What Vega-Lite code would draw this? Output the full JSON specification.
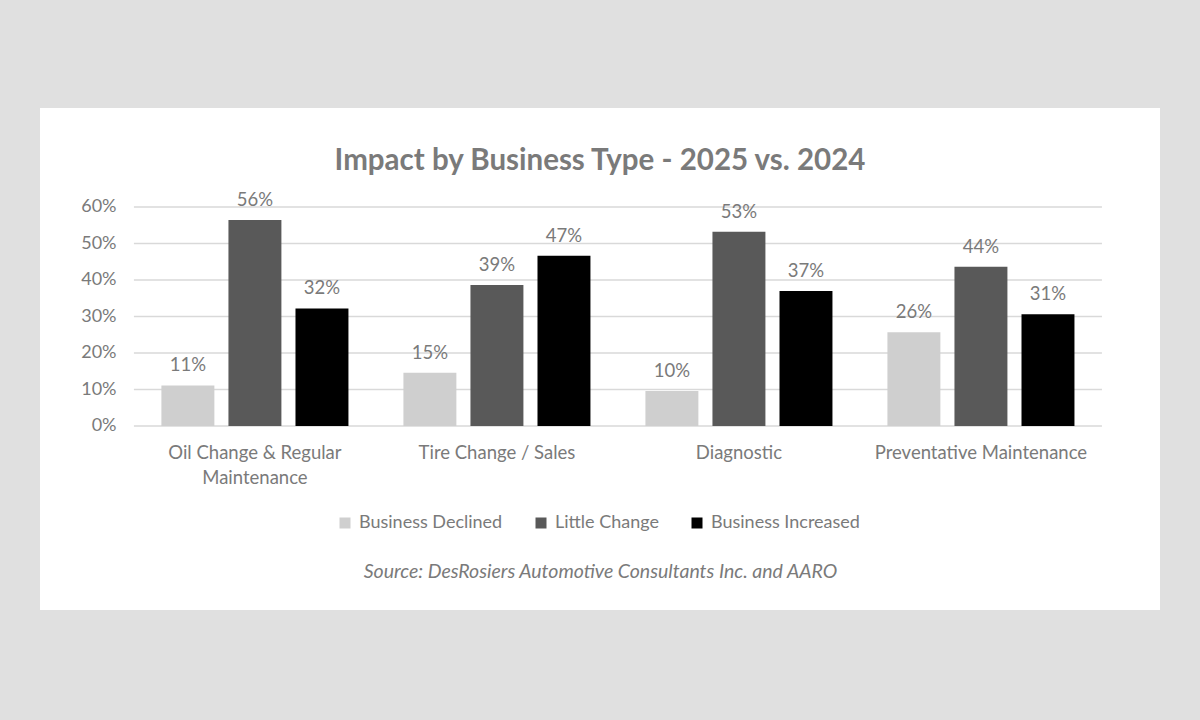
{
  "$schema": "https://vega.github.io/schema/vega-lite/v6.json",
  "width": 1120,
  "height": 502,
  "autosize": {"type": "none"},
  "padding": {"left": 40, "top": 108, "right": 40, "bottom": 110},
  "background": "#e0e0e0",
  "title": {
    "text": "Impact by Business Type - 2025 vs. 2024",
    "font": "Lato",
    "fontSize": 29.5,
    "fontWeight": "bold",
    "color": "#7a7a7a",
    "anchor": "middle",
    "offset": -68
  },
  "config": {
    "view": {"fill": "white", "stroke": null},
    "font": "Lato",
    "text": {"font": "Lato"}
  },
  "data": {
    "values": [
      {"category": "Oil Change & Regular Maintenance", "series": "Business Declined", "value": 0.111},
      {"category": "Oil Change & Regular Maintenance", "series": "Little Change", "value": 0.564},
      {"category": "Oil Change & Regular Maintenance", "series": "Business Increased", "value": 0.322},
      {"category": "Tire Change / Sales", "series": "Business Declined", "value": 0.146},
      {"category": "Tire Change / Sales", "series": "Little Change", "value": 0.386},
      {"category": "Tire Change / Sales", "series": "Business Increased", "value": 0.466},
      {"category": "Diagnostic", "series": "Business Declined", "value": 0.096},
      {"category": "Diagnostic", "series": "Little Change", "value": 0.532},
      {"category": "Diagnostic", "series": "Business Increased", "value": 0.37},
      {"category": "Preventative Maintenance", "series": "Business Declined", "value": 0.257},
      {"category": "Preventative Maintenance", "series": "Little Change", "value": 0.436},
      {"category": "Preventative Maintenance", "series": "Business Increased", "value": 0.306}
    ]
  },
  "encoding": {
    "x": {
      "field": "category",
      "type": "nominal",
      "sort": ["Oil Change & Regular Maintenance", "Tire Change / Sales", "Diagnostic", "Preventative Maintenance"],
      "scale": {"paddingInner": 0, "paddingOuter": 0.314, "align": 0.618},
      "axis": {
        "orient": "bottom",
        "offset": -184,
        "domain": false,
        "ticks": false,
        "tickSize": 0,
        "labelAngle": 0,
        "labelPadding": 17,
        "labelFontSize": 18.5,
        "labelColor": "#7a7a7a",
        "labelFont": "Lato",
        "labelLimit": 0,
        "labelLineHeight": 25,
        "labelBaseline": "top",
        "labelExpr": "datum.label == 'Oil Change & Regular Maintenance' ? ['Oil Change & Regular', 'Maintenance'] : datum.label",
        "title": "Source: DesRosiers Automotive Consultants Inc. and AARO",
        "titleFont": "Lato",
        "titleFontSize": 19.5,
        "titleFontStyle": "italic",
        "titleFontWeight": "normal",
        "titleColor": "#7a7a7a",
        "titleY": 145,
        "titleBaseline": "middle"
      }
    },
    "y": {
      "field": "value",
      "type": "quantitative",
      "scale": {"domain": [-0.504, 0.871], "nice": false, "zero": false},
      "axis": {
        "orient": "left",
        "offset": -80,
        "values": [0, 0.1, 0.2, 0.3, 0.4, 0.5, 0.6],
        "format": ".0%",
        "grid": false,
        "domain": false,
        "ticks": false,
        "tickSize": 0,
        "labelPadding": 4,
        "labelFontSize": 18,
        "labelColor": "#7a7a7a",
        "labelFont": "Lato",
        "title": null
      }
    }
  },
  "layer": [
    {
      "data": {"values": [{"g": 0}, {"g": 0.1}, {"g": 0.2}, {"g": 0.3}, {"g": 0.4}, {"g": 0.5}, {"g": 0.6}]},
      "mark": {"type": "rule", "color": "#d9d9d9", "strokeWidth": 1.5},
      "encoding": {
        "x": {"datum": "Oil Change & Regular Maintenance", "bandPosition": 0},
        "x2": {"datum": "Preventative Maintenance", "bandPosition": 1},
        "y": {"field": "g", "type": "quantitative"}
      }
    },
    {
      "mark": {"type": "bar"},
      "encoding": {
        "xOffset": {
          "field": "series",
          "type": "nominal",
          "sort": ["Business Declined", "Little Change", "Business Increased"],
          "scale": {"paddingInner": 0.21, "paddingOuter": 0.41}
        },
        "color": {
          "field": "series",
          "type": "nominal",
          "scale": {
            "domain": ["Business Declined", "Little Change", "Business Increased"],
            "range": ["#cfcfcf", "#595959", "#000000"]
          },
          "legend": {
            "orient": "none",
            "direction": "horizontal",
            "legendX": 296,
            "legendY": 406,
            "title": null,
            "symbolType": "square",
            "symbolSize": 121,
            "symbolStrokeWidth": 0,
            "labelFontSize": 18,
            "labelColor": "#7a7a7a",
            "labelFont": "Lato",
            "labelOffset": 5,
            "columnPadding": 29,
            "labelLimit": 0
          }
        }
      }
    },
    {
      "mark": {"type": "text", "baseline": "alphabetic", "dy": -14, "fontSize": 18.5, "color": "#7a7a7a", "font": "Lato"},
      "encoding": {
        "xOffset": {
          "field": "series",
          "type": "nominal",
          "sort": ["Business Declined", "Little Change", "Business Increased"]
        },
        "text": {"field": "value", "type": "quantitative", "format": ".0%"}
      }
    }
  ]
}
